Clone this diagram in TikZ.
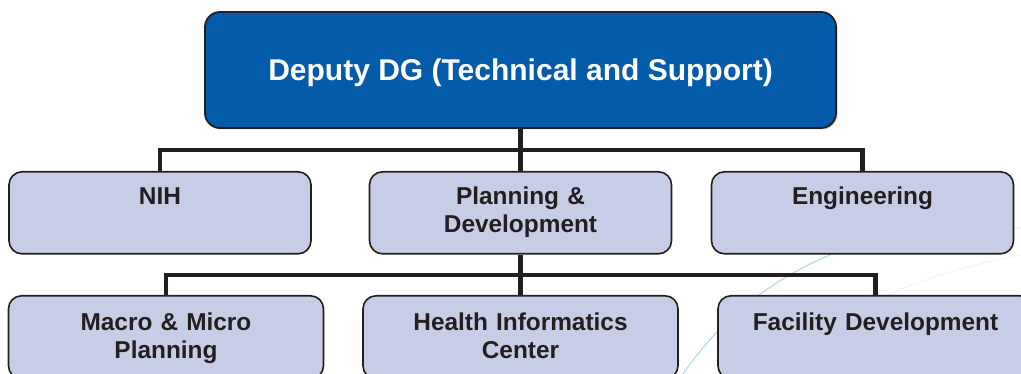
\documentclass[tikz,border=0pt]{standalone}
\usepackage{fontspec}
\setmainfont{Liberation Sans}
\usetikzlibrary{shadows}
\definecolor{dgblue}{HTML}{045BAA}
\definecolor{unitfill}{HTML}{C7CDE6}
\definecolor{inkdark}{HTML}{231F20}
\definecolor{swooshblue}{HTML}{A8D8F0}
\begin{document}
\begin{tikzpicture}[x=1pt,y=-1pt]
	\tikzstyle{head}=[draw=inkdark, line width=1.8pt, fill=dgblue, rounded corners=15pt, minimum width=631pt, minimum height=116pt, text height=21pt, text depth=-1pt, text=white, font=\fontsize{30}{34}\selectfont\bfseries, drop shadow={shadow xshift=1.5pt, shadow yshift=-1.5pt, fill=black!40, opacity=.5}]
	\tikzstyle{unit}=[draw=inkdark, line width=1.6pt, fill=unitfill, rounded corners=13pt, anchor=north, inner sep=0pt, text width=302pt, align=center, text height=33pt, text depth=49pt, text=inkdark, font=\fontsize{24.4}{27.5}\selectfont\bfseries]
	\tikzstyle{subunit}=[unit, text width=315pt, text height=35pt, text depth=48pt]
	\tikzstyle{bus}=[draw=inkdark, line width=4.5pt]
	\tikzstyle{swoosh}=[draw=swooshblue, line width=1pt]
	\useasboundingbox (0,0) rectangle (1021,374);
	\clip (0,0) rectangle (1021,374);
	\draw[swoosh] (683,374) .. controls (720,320) and (770,280) .. (830,255);
	\draw[swoosh, opacity=.4] (830,255) .. controls (870,240) and (930,232) .. (1021,228);
	\draw[swoosh, opacity=.25] (790,374) .. controls (820,330) and (870,285) .. (1021,255);
	\node[head] (dg) at (520.5,70) {Deputy DG (Technical and Support)};
	\node[unit] (nih) at (160,171) {NIH};
	\node[unit] (pd) at (520.5,171) {Planning \&\\Development};
	\node[unit] (eng) at (862.5,171) {Engineering};
	\node[subunit] (mmp) at (166,295) {Macro \& Micro\\Planning};
	\node[subunit] (hic) at (520.5,295) {Health Informatics\\Center};
	\node[subunit] (fd) at (875.5,295) {Facility Development};
	\coordinate (bus1) at (520.5,150);
	\coordinate (bus2) at (520.5,275);
	\draw[bus] (dg.south) -- (pd.north);
	\draw[bus] (nih.north) |- (bus1) -| (eng.north);
	\draw[bus] (pd.south) -- (hic.north);
	\draw[bus] (mmp.north) |- (bus2) -| (fd.north);
\end{tikzpicture}
\end{document}
